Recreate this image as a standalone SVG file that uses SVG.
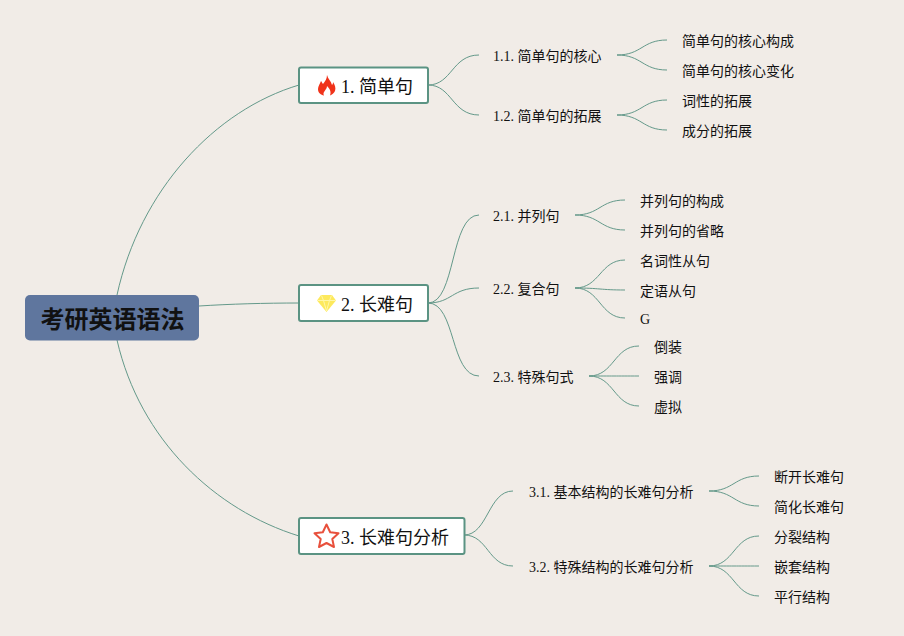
<svg xmlns="http://www.w3.org/2000/svg" width="904" height="636" viewBox="0 0 904 636">
<style>
text{font-family:"Liberation Serif","Noto Sans CJK SC",serif;fill:#111;font-size:14px}
.main{font-size:18px}
.root{font-size:24px;font-weight:700;font-family:"Noto Sans CJK SC","Liberation Sans",sans-serif}
.box{fill:#fff;stroke:#5b9383;stroke-width:2}
#connectors path{fill:none;stroke:#64998a;stroke-width:1}
</style>
<rect width="904" height="636" fill="#f1ece7"/>
<g id="connectors">
<path d="M117 295C140 190 215 110 299 85"/>
<path d="M199 306C230 304 265 303 299 303"/>
<path d="M117 340C140 440 215 510 299 536"/>
<path d="M428 85C452 85 452 55 479 55"/>
<path d="M428 85C452 85 452 115 479 115"/>
<path d="M428 303C456 303 450 215 479 215"/>
<path d="M428 303C452 303 452 288 479 288"/>
<path d="M428 303C456 303 450 376 479 376"/>
<path d="M464 535C488 535 488 491 513 491"/>
<path d="M464 535C488 535 488 566 513 566"/>
<path d="M617 55C642 55 642 40 667 40"/>
<path d="M617 55C642 55 642 70 667 70"/>
<path d="M617 115C642 115 642 100 667 100"/>
<path d="M617 115C642 115 642 130 667 130"/>
<path d="M575 215C600 215 600 200 625 200"/>
<path d="M575 215C600 215 600 230 625 230"/>
<path d="M575 288C600 288 600 260 625 260"/>
<path d="M575 288C600 288 600 290 625 290"/>
<path d="M575 288C600 288 600 318 625 318"/>
<path d="M589 376C614 376 614 346 639 346"/>
<path d="M589 376C614 376 614 376 639 376"/>
<path d="M589 376C614 376 614 406 639 406"/>
<path d="M709 491C734 491 734 476 759 476"/>
<path d="M709 491C734 491 734 506 759 506"/>
<path d="M709 566C734 566 734 536 759 536"/>
<path d="M709 566C734 566 734 566 759 566"/>
<path d="M709 566C734 566 734 596 759 596"/>
</g>
<g id="root"><rect x="25" y="295" width="174" height="45.500" rx="5" fill="#5f769e"/><text class="root" x="40.500" y="328">考研英语语法</text></g>
<g id="n1"><rect class="box" x="299" y="67.500" width="129" height="35.500" rx="2"/>
<path d="M327 75C328 79 331 81 332 85C333 84 333 83 333 82C335 85 336 88 335 91C334 93 332 95 330 95.500C331 93 331 90 327 86C327 90 322 92 324 95.500C321 95 318 93 318 89C318 86 320 84 321 81C322 82 322 83 323 84C325 81 327 79 327 75Z" fill="#f0331a"/>
<text class="main" x="341" y="92.500">1. 简单句</text></g>
<g id="n2"><rect class="box" x="299" y="285" width="129" height="36" rx="2"/>
<path d="M321 295H332L336 300.500L326.500 312L317 300.500Z" fill="#fde95c"/><path d="M317.500 300.500H335.500M321.500 295.500L323.500 300.500L326.500 311L329.500 300.500L331.500 295.500" fill="none" stroke="#fff7a8" stroke-width="1"/>
<text class="main" x="341" y="310.500">2. 长难句</text></g>
<g id="n3"><rect class="box" x="299" y="518" width="165.500" height="36" rx="2"/>
<path d="M326.500 524.500L330.200 532.300L338.500 533.300L332.300 539L334 547L326.500 543L319 547L320.700 539L314.500 533.300L322.800 532.300Z" fill="#fff" stroke="#e8503c" stroke-width="2" stroke-linejoin="round"/>
<text class="main" x="341" y="543.500">3. 长难句分析</text></g>
<g id="n11"><text x="493" y="61">1.1. 简单句的核心</text></g>
<g id="n12"><text x="493" y="121">1.2. 简单句的拓展</text></g>
<g id="n21"><text x="493" y="221">2.1. 并列句</text></g>
<g id="n22"><text x="493" y="294">2.2. 复合句</text></g>
<g id="n23"><text x="493" y="382">2.3. 特殊句式</text></g>
<g id="n31"><text x="529" y="497">3.1. 基本结构的长难句分析</text></g>
<g id="n32"><text x="529" y="572">3.2. 特殊结构的长难句分析</text></g>
<g id="n111"><text x="682" y="46">简单句的核心构成</text></g>
<g id="n112"><text x="682" y="76">简单句的核心变化</text></g>
<g id="n121"><text x="682" y="106">词性的拓展</text></g>
<g id="n122"><text x="682" y="136">成分的拓展</text></g>
<g id="n211"><text x="640" y="206">并列句的构成</text></g>
<g id="n212"><text x="640" y="236">并列句的省略</text></g>
<g id="n221"><text x="640" y="266">名词性从句</text></g>
<g id="n222"><text x="640" y="296">定语从句</text></g>
<g id="n223"><text x="640" y="324">G</text></g>
<g id="n231"><text x="654" y="352">倒装</text></g>
<g id="n232"><text x="654" y="382">强调</text></g>
<g id="n233"><text x="654" y="412">虚拟</text></g>
<g id="n311"><text x="774" y="482">断开长难句</text></g>
<g id="n312"><text x="774" y="512">简化长难句</text></g>
<g id="n321"><text x="774" y="542">分裂结构</text></g>
<g id="n322"><text x="774" y="572">嵌套结构</text></g>
<g id="n323"><text x="774" y="602">平行结构</text></g>
</svg>
